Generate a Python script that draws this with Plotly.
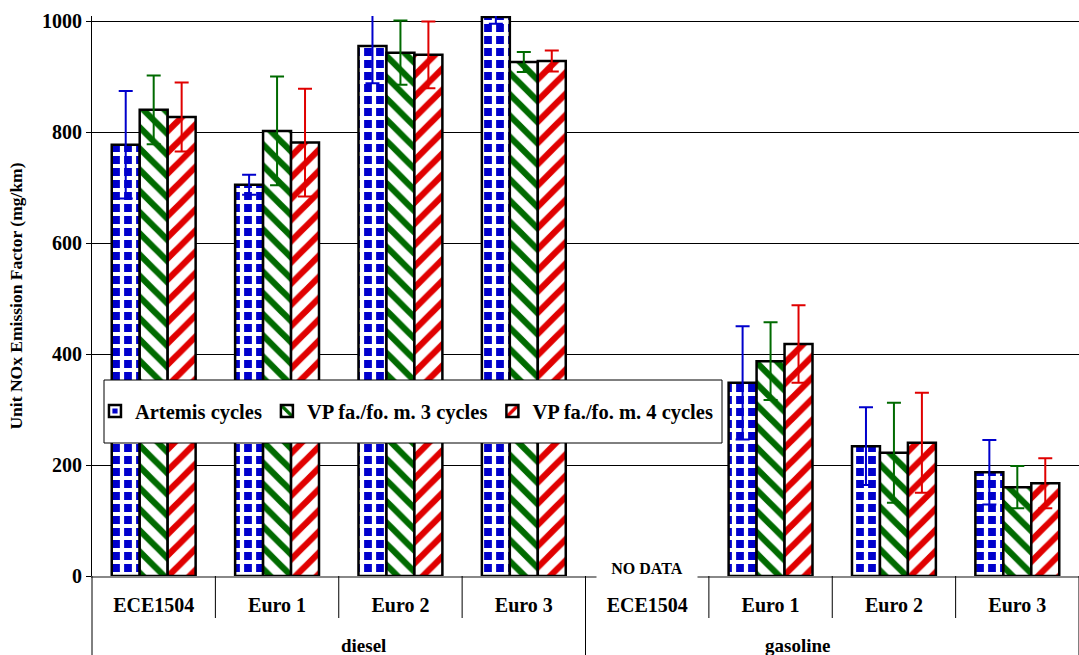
import plotly.graph_objects as go

fuel = ["diesel"] * 4 + ["gasoline"] * 4
stage = ["ECE1504", "Euro 1", "Euro 2", "Euro 3"] * 2
fuels = ["diesel", "gasoline"]

artemis = [777, 705, 955, 1007, None, 348, 234, 187]
artemis_err = [97, 18, 67, 12, 0, 102, 70, 58]
vp3 = [840, 802, 943, 926, None, 387, 222, 160]
vp3_err = [62, 98, 58, 18, 0, 70, 90, 38]
vp4 = [827, 781, 939, 928, None, 418, 240, 167]
vp4_err = [62, 97, 60, 19, 0, 70, 90, 45]

cats = [f + " " + s for f, s in zip(fuel, stage)]

series = [
    ("Artemis cycles", artemis, artemis_err, "#0000CC",
     dict(shape="+", fgcolor="white", bgcolor="#0000CC", size=12, solidity=0.58, fgopacity=1)),
    ("VP fa./fo. m. 3 cycles", vp3, vp3_err, "#006A00",
     dict(shape="\\", fgcolor="#006A00", bgcolor="white", size=15, solidity=0.42, fgopacity=1)),
    ("VP fa./fo. m. 4 cycles", vp4, vp4_err, "#E00000",
     dict(shape="/", fgcolor="#E00000", bgcolor="white", size=15, solidity=0.42, fgopacity=1)),
]

FONT = "Liberation Serif"
PLOT_H = 655 - 16 - 79

fig = go.Figure()
for name, vals, errs, col, pat in series:
    fig.add_trace(go.Bar(
        x=cats, y=vals, name=name,
        marker=dict(color="white", line=dict(color="black", width=2.5), pattern=pat),
        error_y=dict(type="data", array=errs, visible=True, color=col,
                     thickness=2, width=7),
    ))

fig.update_layout(
    width=1079, height=655,
    margin=dict(l=92, r=0, t=16, b=79),
    plot_bgcolor="white", paper_bgcolor="white",
    barmode="group", bargap=0.32, bargroupgap=0,
    font=dict(family=FONT, size=20, color="black", weight="bold"),
    showlegend=True,
    legend=dict(orientation="h", x=0.003, y=0.33, xanchor="left", yanchor="top",
                bgcolor="rgba(0,0,0,0)", borderwidth=0,
                font=dict(family=FONT, size=20.5, color="black", weight="bold"),
                tracegroupgap=0),
)

fig.update_yaxes(range=[0, 1009], dtick=200, tick0=0, automargin=False,
                 showgrid=True, gridcolor="black", gridwidth=1,
                 showline=True, linecolor="black", linewidth=1,
                 ticks="outside", ticklen=5, tickcolor="black",
                 tickfont=dict(family=FONT, size=20, weight="bold"),
                 title=dict(text="Unit NOx Emission Factor (mg/km)",
                            font=dict(family=FONT, size=17.5, weight="bold"),
                            standoff=14),
                 zeroline=False)

fig.update_xaxes(type="category", automargin=False,
                 tickvals=cats, ticktext=stage,
                 showline=True, linecolor="#888888", linewidth=2,
                 ticks="", ticklabelstandoff=10,
                 tickfont=dict(family=FONT, size=20, weight="bold"),
                 range=[-0.5, 7.5])

# legend frame
fig.add_shape(type="rect", xref="paper", yref="paper",
              x0=(104 - 92) / 987, x1=(722 - 92) / 987,
              y0=(576 - 443) / PLOT_H, y1=(576 - 380) / PLOT_H,
              line=dict(color="black", width=1), fillcolor="white", layer="above")

# category boundary lines below the axis
n = len(cats)
for k in range(0, n + 1):
    depth = 79 if k % 4 == 0 else 42
    fig.add_shape(type="line", xref="paper", yref="paper",
                  x0=k / n, x1=k / n, y0=0, y1=-depth / PLOT_H,
                  line=dict(color="black", width=1))

for i, f in enumerate(fuels):
    fig.add_annotation(text=f, xref="paper", yref="paper", x=(i + 0.5) / 2,
                       y=-(645 - 576) / PLOT_H, yanchor="middle", showarrow=False,
                       font=dict(family=FONT, size=19, weight="bold"))

fig.add_annotation(text="NO DATA", xref="x", yref="y", x=cats[4], y=0,
                   yanchor="middle", yshift=8, showarrow=False, bgcolor="white",
                   width=98, height=18,
                   font=dict(family=FONT, size=16, weight="bold"))

fig.write_html("out.html", config={"displayModeBar": False},
               post_script="document.body.style.margin='0';document.body.style.overflow='hidden';")
